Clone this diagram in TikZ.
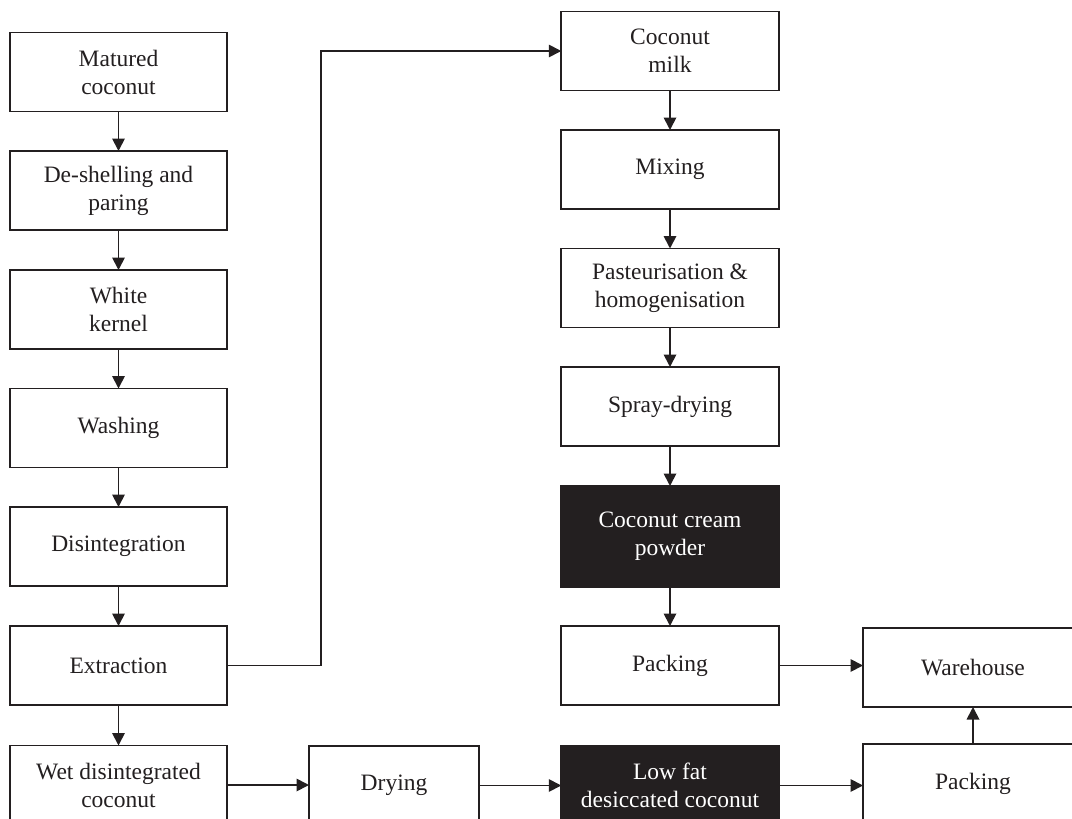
\documentclass[tikz,border=0pt]{standalone}
\usepackage{fontspec}
\setmainfont{Liberation Serif}
\usetikzlibrary{arrows.meta}
\definecolor{ink}{RGB}{35,31,32}
\tikzset{
  box/.style={draw=ink, line width=1.6pt, fill=white, text=ink, inner sep=0pt, outer sep=0pt,
    minimum width=217.5pt, minimum height=79pt, align=center,
    font=\fontsize{23.5}{28}\selectfont},
  darkbox/.style={box, fill=ink, text=white},
  arr/.style={draw=ink, line width=1.8pt, -{Triangle[length=12.5pt,width=12.5pt]}}
}
\begin{document}
\begin{tikzpicture}[x=1pt,y=-1pt]
\useasboundingbox (0,0) rectangle (1072,819);
% left column
\node[box] (mat) at (118.5,72) {Matured\\coconut};
\node[box] (desh) at (118.5,190.5) {De-shelling and\\paring};
\node[box] (white) at (118.5,309.5) {White\\kernel};
\node[box] (wash) at (118.5,428) {Washing};
\node[box] (disint) at (118.5,546.5) {Disintegration};
\node[box] (extr) at (118.5,665.5) {Extraction};
\node[box] (wet) at (118.5,785) {Wet disintegrated\\coconut};
% middle column
\node[box] (milk) at (670,51) {Coconut\\milk};
\node[box] (mix) at (670,169.5) {Mixing};
\node[box] (past) at (670,288) {Pasteurisation \&\\homogenisation};
\node[box] (spray) at (670,406.5) {Spray-drying};
\node[darkbox, minimum height=101pt] (cream) at (670,536.5) {Coconut cream\\powder};
\node[box] (pack1) at (670,665.5) {Packing};
\node[darkbox] (lowfat) at (670,785.5) {Low fat\\desiccated coconut};
% drying
\node[box, minimum width=170pt] (dry) at (394,785.5) {Drying};
% right column
\node[box, minimum width=220pt] (ware) at (973,667.5) {Warehouse};
\node[box, minimum width=220pt] (pack2) at (973,783.5) {Packing};
% connectors
\draw[arr] (mat) -- (desh);
\draw[arr] (desh) -- (white);
\draw[arr] (white) -- (wash);
\draw[arr] (wash) -- (disint);
\draw[arr] (disint) -- (extr);
\draw[arr] (extr) -- (wet);
\draw[arr] (extr.east) -- ++(94,0) |- (milk.west);
\draw[arr] (milk) -- (mix);
\draw[arr] (mix) -- (past);
\draw[arr] (past) -- (spray);
\draw[arr] (spray) -- (cream);
\draw[arr] (cream) -- (pack1);
\draw[arr] (pack1.east) -- (pack1.east -| ware.west);
\draw[arr] (wet.east) -- (wet.east -| dry.west);
\draw[arr] (dry.east) -- (dry.east -| lowfat.west);
\draw[arr] (lowfat.east) -- (lowfat.east -| pack2.west);
\draw[arr] (pack2) -- (ware);
\end{tikzpicture}
\end{document}
